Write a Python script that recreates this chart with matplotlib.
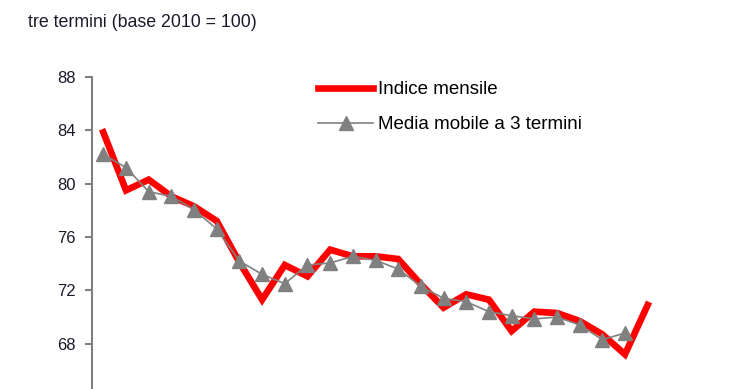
import numpy as np
import matplotlib
matplotlib.use('Agg')
import matplotlib.pyplot as plt

# Indice mensile e media mobile a 3 termini (base 2010 = 100)
indice = [83.85, 79.5, 80.3, 79.05, 78.3, 77.2, 74.1, 71.3, 73.9, 73.05,
          75.05, 74.55, 74.55, 74.35, 72.45, 70.7, 71.7, 71.3, 68.95, 70.4,
          70.3, 69.7, 68.7, 67.2, 70.9]
media = [82.2, 81.2, 79.4, 79.05, 78.05, 76.6, 74.2, 73.2, 72.5, 73.9,
         74.05, 74.55, 74.25, 73.6, 72.3, 71.4, 71.15, 70.4, 70.1, 69.85,
         70.0, 69.4, 68.3, 68.8]
yticks = [64, 68, 72, 76, 80, 84, 88]

plt.rcParams['font.family'] = ['Liberation Sans', 'DejaVu Sans']

fig = plt.figure(figsize=(7.4, 3.89), dpi=100)
ax = fig.add_axes([92 / 740, -8 / 389, 567 / 740, 320 / 389])

x1 = np.arange(len(indice))
x2 = np.arange(len(media))
ax.plot(x1, indice, color='#ff0000', lw=4.8, solid_joinstyle='miter',
        label='Indice mensile', zorder=2)
ax.plot(x2, media, color='#808080', lw=1.2, marker='^', markersize=9.5,
        label='Media mobile a 3 termini', zorder=3)

ax.set_xlim(-0.5, len(indice) - 0.5)
ax.set_ylim(64, 88)
ax.set_yticks(yticks)
ax.set_xticks([])
for s in ['top', 'right', 'bottom']:
    ax.spines[s].set_visible(False)
ax.spines['left'].set_color('#808080')
ax.spines['left'].set_linewidth(1.5)
ax.tick_params(axis='y', direction='out', length=5, width=1.5, color='#808080',
               labelsize=12, labelcolor='#1a1a2a', pad=7)

ax.legend(loc='upper left', bbox_to_anchor=(318 / 740, 1 - 81 / 389),
          bbox_transform=fig.transFigure, frameon=False, fontsize=13.5,
          handlelength=2.95, handletextpad=0.27, labelspacing=0.95, borderpad=0,
          borderaxespad=0)

fig.text(28 / 740, 1 - 27 / 389, 'tre termini (base 2010 = 100)', fontsize=12.8,
         color='#1a1a2a', va='baseline', ha='left')

fig.savefig('out.png', dpi=100)
